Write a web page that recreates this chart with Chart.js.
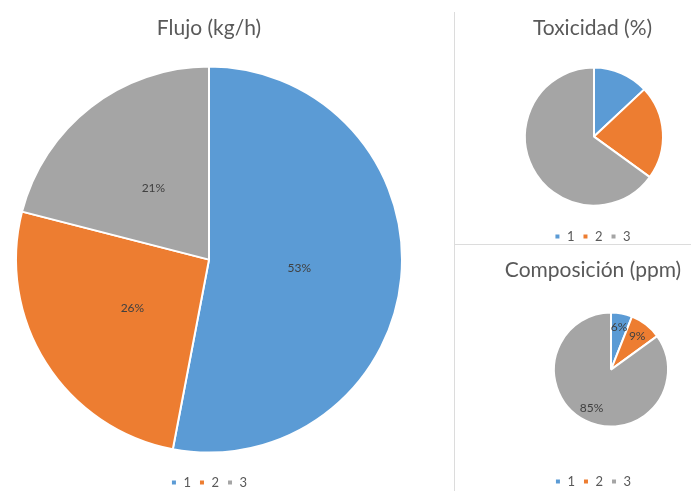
<!DOCTYPE html>
<html>
<head>
<meta charset="utf-8">
<script src="https://cdn.jsdelivr.net/npm/chart.js@4/dist/chart.umd.min.js"></script>
<style>
  html, body { margin: 0; padding: 0; background: #fff; }
  body { position: relative; width: 691px; height: 491px; overflow: hidden; }
  .box { position: absolute; }
  .vline { position: absolute; left: 454px; top: 12px; width: 1px; height: 479px; background: #dcdcdc; }
  .hline { position: absolute; left: 455px; top: 244px; width: 236px; height: 1px; background: #dcdcdc; }
</style>
</head>
<body>
<div class="box" style="left:0;top:0;width:418px;height:491px"><canvas id="flujo"></canvas></div>
<div class="box" style="left:494px;top:0;width:197px;height:245px"><canvas id="toxicidad"></canvas></div>
<div class="box" style="left:495px;top:245px;width:196px;height:246px"><canvas id="composicion"></canvas></div>
<div class="vline"></div>
<div class="hline"></div>
<script>
// Stream categories shared by the three pies
const categories = ['1', '2', '3'];

// Values per pie (percent shares)
const flujoValues = [53, 26, 21];
const toxicidadValues = [13, 22, 65];
const composicionValues = [6, 9, 85];

// Titles
const flujoTitle = 'Flujo (kg/h)';
const toxicidadTitle = 'Toxicidad (%)';
const composicionTitle = 'Composición (ppm)';

const sliceColors = ['#5B9BD5', '#ED7D31', '#A5A5A5'];
const textColor = '#595959';
const fontFamily = "Lato, 'Open Sans', 'Liberation Sans', sans-serif";

// Moves the plot area (pie centre) and the legend by fixed offsets
const plotShift = {
  id: 'plotShift',
  afterLayout(chart, args, opts) {
    const dx = opts.dx || 0, dy = opts.dy || 0;
    const a = chart.chartArea;
    a.left += dx; a.right += dx; a.top += dy; a.bottom += dy;
    const lg = chart.legend;
    if (lg && opts.legendDy) { lg.top += opts.legendDy; lg.bottom += opts.legendDy; }
  }
};

// Percentage labels inside each slice
const sliceLabels = {
  id: 'sliceLabels',
  afterDatasetsDraw(chart, args, opts) {
    if (!opts.show) return;
    const ds = chart.data.datasets[0];
    const total = ds.data.reduce((s, v) => s + v, 0);
    const meta = chart.getDatasetMeta(0);
    const ctx = chart.ctx;
    ctx.save();
    ctx.font = `${opts.size || 11}px ${fontFamily}`;
    ctx.fillStyle = '#404040';
    ctx.textAlign = 'center';
    ctx.textBaseline = 'middle';
    meta.data.forEach((arc, i) => {
      const p = arc.getProps(['x', 'y', 'startAngle', 'endAngle', 'outerRadius'], true);
      const mid = (p.startAngle + p.endAngle) / 2;
      const r = p.outerRadius * (opts.fraction || 0.5);
      const txt = Math.round(ds.data[i] / total * 100) + '%';
      ctx.fillText(txt, p.x + Math.cos(mid) * r, p.y + Math.sin(mid) * r);
    });
    ctx.restore();
  }
};

function makePie(id, title, values, o) {
  return new Chart(document.getElementById(id), {
    type: 'pie',
    data: {
      labels: categories,
      datasets: [{
        data: values,
        backgroundColor: sliceColors,
        borderColor: '#ffffff',
        borderWidth: o.border,
        radius: o.radius
      }]
    },
    options: {
      responsive: true,
      maintainAspectRatio: false,
      animation: false,
      layout: { padding: 0 },
      plugins: {
        title: {
          display: true,
          text: title,
          color: textColor,
          font: { family: fontFamily, size: o.titleSize, weight: 'normal' },
          padding: { top: o.titleTop, bottom: 4 }
        },
        legend: {
          position: 'bottom',
          labels: {
            color: textColor,
            font: { family: fontFamily, size: 13 },
            usePointStyle: true,
            pointStyle: 'rect',
            boxWidth: 6,
            boxHeight: 6,
            padding: 8
          }
        },
        tooltip: { enabled: false },
        plotShift: { dx: o.dx, dy: o.dy, legendDy: o.legendDy },
        sliceLabels: { show: o.labels, fraction: o.fraction, size: 12 }
      }
    },
    plugins: [plotShift, sliceLabels]
  });
}

makePie('flujo', flujoTitle, flujoValues,
  { radius: 193, border: 2, titleSize: 21, titleTop: 16, dx: 0, dy: 7, legendDy: 8, labels: true, fraction: 0.47 });
makePie('toxicidad', toxicidadTitle, toxicidadValues,
  { radius: 69, border: 2, titleSize: 21, titleTop: 16, dx: 1.5, dy: 7, legendDy: 8, labels: false });
makePie('composicion', composicionTitle, composicionValues,
  { radius: 57, border: 2, titleSize: 21, titleTop: 13, dx: 18, dy: -4, legendDy: 7, labels: true, fraction: 0.75 });
</script>
</body>
</html>
